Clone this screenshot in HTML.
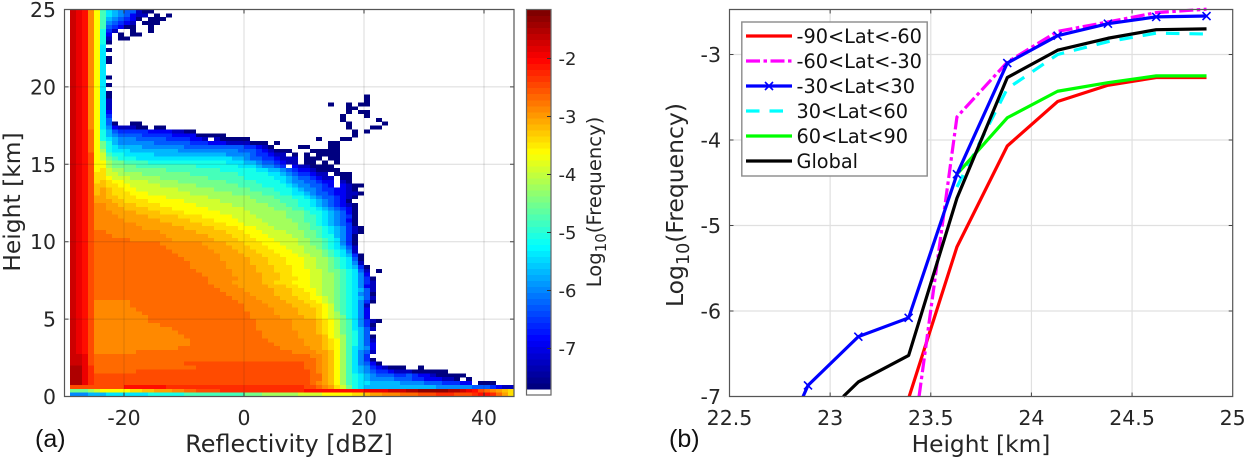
<!DOCTYPE html>
<html lang="en">
<head>
<meta charset="utf-8">
<title>Reflectivity frequency and latitude curves</title>
<style>
html,body{margin:0;padding:0;background:#fff;width:1245px;height:460px;overflow:hidden;}
svg{display:block;}
text{font-family:"DejaVu Sans","Liberation Sans",sans-serif;fill:#262626;}
.panel-tag{font-family:"Liberation Sans",sans-serif;font-size:25px;fill:#111;}
</style>
</head>
<body>
<svg id="figure" width="1245" height="460" viewBox="0 0 1245 460" xmlns="http://www.w3.org/2000/svg">
  <rect x="0" y="0" width="1245" height="460" fill="#fff"/>
  <g id="panel-a"></g>
  <g id="colorbar"></g>
  <g id="panel-b"></g>
  <text class="panel-tag" x="35" y="447">(a)</text>
  <text class="panel-tag" x="669" y="447">(b)</text>
</svg>
<script>
// ---- Panel (a): heatmap values ----
// Log10(frequency) for each cell letter; "." means no data.
const levelLetters = "abcdefghijklmnopqrstuvwxyz";
const levelValues = [-7.7,-7.3,-6.95,-6.6,-6.3,-6.0,-5.7,-5.4,-5.1,-4.8,-4.5,-4.2,-3.9,-3.6,-3.4,-3.2,-3.0,-2.85,-2.65,-2.45,-2.25,-2.05,-1.85,-1.65,-1.45,-1.25];
const reflectivityTicks = [-20,0,20,40];
const heightTicks = [0,5,10,15,20,25];
const colorbarTicks = [-2,-3,-4,-5,-6,-7];
// One run-length string per height row, top (25 km) to bottom (0 km); letter + optional repeat count.
const heatmapRows = [
"xwvrnjhgfe2ba2","xwvrnjhgfecb2.a.a","xwvrnjgfedca.a3","xwvrnjfedcb.a3","xwvrnjedca2.2a",
"xwvrnidb.2a.2a","xwvrnic.a.a2","xwvrnib.a2","xwvrnia","xwvrnh",
"xwvrnha","xwvrnh","xwvrnha","xwvrnha","xwvrnh",
"xwvrnh","xwvrnh","xwvrnha","xwvrnh","xwvrnha",
"xwvrnh","xwvrnha","xwvrnha.42a","xwvrnhb.42a","xwvrnhb.36a.2a.a2",
"xwvrnhb.39a2","xwvrnhc.39a.a2","xwvrnhd.38a.3a","xwvrnhe.38a.5a","xwvrnhea.2a2.34a.5a",
"xwvrnhfcb3a2.a2.30a.3a2","xwvsniged5c4b2a2.26a.a","xwvsnigfe4d5c4a5.21a","xwvsnihgf3e5d4c2b.ba5.11a.3a2","xwvsnkigf6e6d3c3b4a3.a.8a2",
"xwvsnkihg4f7e10d2cba.4a2.3a2","xwvsnlih3g8f10e3dcba3.3a5","xwvtnmji2h5g12f4ed2cb2.a.a.a4","xwvtnmkji3h16g2fe2d2cb3.a3.a2","xwvtnnlk2j4i13h3g2fe2dcb2.a2.a.a",
"xwvtnnlk4j10i7h3gf2ed.cb2a4","xwvtnoml2k7j9i6h2g2fedc2ba4","xwvtoom2l4k8j8i5h2gfed2cb2.a3","xwvtoonm3l5k8j6i5h2gfe2dcb2.a2","xwvtopon2m4l5k8j5i4hgf2e2dc2.ba",
"xwvtppo2n2m5l6k7j4i4hgf2e2dc.cba2","xwvtpqpo2n2m7l6k6j4i3hgf2ed2c2ba","xwvtpqpo3n3m7l7k5j3i2h2gfe2dc2b2a","xwvtqqp2o3n5m7l7k4j3i2hgfe2dcba","xwvtqq2p2o4n6m6l6k4j3i2hgfedca",
"xwvtrrq2p3o4n6m6l6k3j2i2hgfedcba","xwvtrrq3p4o4n6m6l5k3j2i2hgfedca","xwvtrr2q4p4o4n6m5l6k3ji2hgfeca","xwvtrr3q5p5o4n5m4l5k3j2ihgfeda","xwvtrr4q6p5o4n4m4l5k2j2ihgfeca",
"xwvtrr6q6p5o4n3m4l5k2jihgfeda","xwvtrr7q7p5o4n3m3l4k2j2ihgfdba","xwvtssr9q6p5o3n3m4l3k2jihgfdba","xwvtss2r9q7p4o3n3m4l2k2ji2gfda","xwvtss5r7q7p4o3n3m4l2k2jihfda",
"xwvtss10r7q4p3o3n3m3l2k2jihfda","xwvtss11r7q4p3o3n3m3l2kjihgeb","xwvtss12r7q4p3o3n3m2l3kjihfb","xwvtss13r7q4p3o3n3m2l2kjihgda","xwvtss14r6q5p3o3n3m2l2kjihea",
"xwvtss15r6q4p3o3n3m2l2kjihfb","xwvtss15r6q5p3o3n2m2l2kjihgda","xwvtss16r6q4p3o3n3m2lk2jiheb.a","xwvtss17r5q5p3o2n3m2l2kjihfc","xwvtss18r5q4p3o3n2m2l2kjihfda",
"xwvtss18r4q5p2o3n3m2l2kjihfdb","xwvtss19r4q5p3o2n2m2l2kjihfcb","xwvtss20r4q5p3o2n2ml2kjihgeb","xwvtss21r4q4p3o3nml2kjihfea","xwvtss22r4q4p3o2n2mlkjihgeb",
"xwvtr6s18r4q4p3o2nmlkjihfda","xwvtr6s19r4q4p3o2nmkjihfb","xwvtr7s18r5q4p3onmkjihfc","xwvtr8s18r4q4p3onmljihfc","xwvtr9s17r5q4p2onmlkihfc",
"xwvtr9s18r6q4ponmkjhfdba","xwvtr11s16r6q4ponmkjhfda","xwvtr13s14r6q4ponmkjhgeb","xwvtr14s14r6q3ponmkjige","xwvtr15s13r6q4pnmljigea",
"xwvtr16s13r6q3ponljigeb","xwvtr16s14r5q3ponljigec","xwvtr14s17r5q2ponljhgfc","xwvtr7s26r4q2pnljhfeb","xxwts36r2qpnljhfd",
"xxwts37rqpnljhfda","xxwts15t20s2rqpnljhfeca","yywus17t18s2rqpnljhgfdcba3.2a","yywus7t29srqpnljhgfed2cb3a6","yywut36s2qpnljihgfe3d2edc2ba5",
"yywut36s2qpnljihgf4e3d2c3b2a.a","yywut36srqpnljih2g5f4e3d3c2.a3","t9v7u23t2srqomkihg12f6e3dcb2","k3lmn5o2p2q3r2s2t4u14v10w4x3y2z5y2xwvtsrqpo","f3g3h7i6j10k3l6m4n5o2pq2r3s3t3u3t3uv2usqo"
];

// ---- Panel (b): line chart values ----
const heightBins = [22.64,22.89,23.14,23.39,23.63,23.88,24.13,24.38,24.62,24.87];
const seriesSouthPolar = [null,null,null,-7.02,-5.25,-4.07,-3.55,-3.36,-3.27,-3.27];
const seriesSouthMid = [null,null,null,-7.9,-3.73,-3.09,-2.73,-2.62,-2.51,-2.47];
const seriesTropics = [-8.2,-6.87,-6.30,-6.08,-4.40,-3.10,-2.78,-2.64,-2.56,-2.55];
const seriesNorthMid = [null,null,null,null,-4.55,-3.40,-3.00,-2.85,-2.75,-2.76];
const seriesNorthPolar = [null,null,null,null,-4.40,-3.74,-3.43,-3.33,-3.25,-3.25];
const seriesGlobal = [null,-7.4,-6.83,-6.52,-4.68,-3.27,-2.95,-2.81,-2.71,-2.70];
const heightAxisTicks = ["22.5","23","23.5","24","24.5","25"];
const frequencyAxisTicks = [-3,-4,-5,-6,-7];
const legendLabels = ["-90<Lat<-60","-60<Lat<-30","-30<Lat<30","30<Lat<60","60<Lat<90","Global"];

const NS = "http://www.w3.org/2000/svg";
function mk(parent, tag, attrs, txt) {
  const el = document.createElementNS(NS, tag);
  for (const k in attrs) el.setAttribute(k, attrs[k]);
  if (txt !== undefined) el.textContent = txt;
  parent.appendChild(el);
  return el;
}
function clamp(v) { return Math.max(0, Math.min(1, v)); }
function jet(f) {
  const r = clamp(1.5 - Math.abs(4 * f - 3));
  const g = clamp(1.5 - Math.abs(4 * f - 2));
  const b = clamp(1.5 - Math.abs(4 * f - 1));
  return "rgb(" + Math.round(r * 255) + "," + Math.round(g * 255) + "," + Math.round(b * 255) + ")";
}
function logColor(v) { return jet((v + 7.7) / 6.55); }

// Axis functions for panel (a)
const ax = {l: 64.5, r: 514, t: 9.5, b: 396.5};
function xA(dbz) { return 244 + dbz * 6; }
function yA(km) { return ax.b - km * (ax.b - ax.t) / 25; }

const pa = document.getElementById("panel-a");
const cells = mk(pa, "g", {"shape-rendering": "crispEdges"});


heatmapRows.forEach(function (row, ri) {
  const kmTop = 25 - ri * 0.25;
  let col = 0;
  const re = /([a-z.])(\d*)/g;
  let m;
  while ((m = re.exec(row)) !== null) {
    const n = m[2] ? parseInt(m[2], 10) : 1;
    for (let i = 0; i < n; i++, col++) {
      if (m[1] === ".") continue;
      const dbz = -29 + col;
      const c = mk(cells, "rect", {
        x: xA(dbz), y: yA(kmTop).toFixed(2),
        width: xA(dbz + 1) - xA(dbz),
        height: (yA(kmTop - 0.25) - yA(kmTop) + 0.1).toFixed(2),
        fill: logColor(levelValues[levelLetters.indexOf(m[1])])
      });
      
      
    }
  }
});

reflectivityTicks.forEach(function (t) {
  const g = mk(pa, "line", {x1: xA(t), x2: xA(t), y1: ax.t, y2: ax.b, stroke: "rgba(30,30,30,0.16)", "stroke-width": 1});
  
  
  const k1 = mk(pa, "path", {d: "M" + xA(t) + " " + ax.b + "v-4M" + xA(t) + " " + ax.t + "v4", stroke: "#333", "stroke-width": 1, fill: "none"});
  
  
  const l = mk(pa, "text", {x: xA(t), y: 425, "text-anchor": "middle", "font-size": 20.4}, String(t));
  
  
});
heightTicks.forEach(function (t) {
  if (t > 0 && t < 25) {
    const g = mk(pa, "line", {x1: ax.l, x2: ax.r, y1: yA(t), y2: yA(t), stroke: "rgba(30,30,30,0.16)", "stroke-width": 1});
    
    
  }
  const k = mk(pa, "path", {d: "M" + ax.l + " " + yA(t) + "h4M" + ax.r + " " + yA(t) + "h-4", stroke: "#444", "stroke-width": 1, fill: "none"});
  
  
  const l = mk(pa, "text", {x: 56, y: yA(t) + 7.5, "text-anchor": "end", "font-size": 20.4}, String(t));
  
  
});
const boxA = mk(pa, "path", {d: "M" + ax.l + " " + ax.t + "H" + ax.r + "V" + ax.b + "H" + ax.l + "Z", fill: "none", stroke: "#555", "stroke-width": 1.2});


const xtA = mk(pa, "text", {x: 289, y: 452, "text-anchor": "middle", "font-size": 23.9}, "Reflectivity [dBZ]");


const ytA = mk(pa, "text", {transform: "translate(20 202) rotate(-90)", "text-anchor": "middle", "font-size": 23.4}, "Height [km]");



// Colorbar
const cb = document.getElementById("colorbar");
function yC(v) { return 58.5 + (-2 - v) * 58; }
const cbBands = 63;
const cbTop = 9.5, cbBottom = 389;
const bandGroup = mk(cb, "g", {"shape-rendering": "crispEdges"});


for (let i = 0; i < cbBands; i++) {
  const h = (cbBottom - cbTop) / cbBands;
  const r = mk(bandGroup, "rect", {x: 526.5, y: (cbBottom - (i + 1) * h).toFixed(2), width: 24.5, height: (h + 0.4).toFixed(2), fill: jet(i / (cbBands - 1))});
  
  
}
const cbBox = mk(cb, "rect", {x: 526.5, y: 9.5, width: 24.5, height: 385.5, fill: "none", stroke: "#666", "stroke-width": 1.2});


colorbarTicks.forEach(function (t) {
  const k = mk(cb, "line", {x1: 547, x2: 551, y1: yC(t), y2: yC(t), stroke: "#333", "stroke-width": 1});
  
  
  const l = mk(cb, "text", {x: 558.5, y: yC(t) + 6.5, "font-size": 18}, String(t));
  
  
});
const cbTitle = mk(cb, "text", {transform: "translate(601 202) rotate(-90)", "text-anchor": "middle", "font-size": 19.6});


mk(cbTitle, "tspan", {}, "Log");
mk(cbTitle, "tspan", {dy: 5, "font-size": 15}, "10");
mk(cbTitle, "tspan", {dy: -5}, "(Frequency)");

// Axis functions for panel (b)
const bx = {l: 729.5, r: 1232.7, t: 9.5, b: 396.5};
const yFloor = -7;
function xB(h) { return bx.l + (h - 22.5) * (bx.r - bx.l) / 2.5; }
function yB(v) { return bx.b - (v + 7) * 85.5; }

const pb = document.getElementById("panel-b");
heightAxisTicks.forEach(function (t) {
  const v = parseFloat(t);
  if (v > 22.5 && v < 25) {
    const g = mk(pb, "line", {x1: xB(v), x2: xB(v), y1: bx.t, y2: bx.b, stroke: "#e0e0e0", "stroke-width": 1.2});
    
    
    const k = mk(pb, "path", {d: "M" + xB(v) + " " + bx.b + "v-4M" + xB(v) + " " + bx.t + "v4", stroke: "#444", "stroke-width": 1, fill: "none"});
    
    
  }
  const l = mk(pb, "text", {x: xB(v), y: 425, "text-anchor": "middle", "font-size": 20.5}, t);
  
  
});
frequencyAxisTicks.forEach(function (t) {
  if (t > -7) {
    const g = mk(pb, "line", {x1: bx.l, x2: bx.r, y1: yB(t), y2: yB(t), stroke: "#e0e0e0", "stroke-width": 1.2});
    
    
    const k = mk(pb, "path", {d: "M" + bx.l + " " + yB(t) + "h4M" + bx.r + " " + yB(t) + "h-4", stroke: "#444", "stroke-width": 1, fill: "none"});
    
    
  }
  const l = mk(pb, "text", {x: 721, y: yB(t) + 7.5, "text-anchor": "end", "font-size": 20.5}, String(t));
  
  
});

const styles = {
  red: {stroke: "#ff0000", dash: ""},
  magenta: {stroke: "#ff00ff", dash: "14 3.5 3.5 3.5"},
  blue: {stroke: "#0000ff", dash: ""},
  cyan: {stroke: "#00ffff", dash: "13.5 10"},
  green: {stroke: "#00ff00", dash: ""},
  black: {stroke: "#000000", dash: ""}
};
// Builds a polyline that stops at the lower axis limit.
function pathOf(values) {
  let d = "";
  values.forEach(function (v, i) {
    if (v === null) return;
    if (v < yFloor) {
      const next = values[i + 1];
      if (next !== null && next !== undefined && next >= yFloor) {
        const t = (yFloor - v) / (next - v);
        const h = heightBins[i] + t * (heightBins[i + 1] - heightBins[i]);
        d += (d ? "L" : "M") + xB(h).toFixed(2) + " " + yB(yFloor).toFixed(2);
      }
      return;
    }
    d += (d ? "L" : "M") + xB(heightBins[i]).toFixed(2) + " " + yB(v).toFixed(2);
  });
  return d;
}
const curveGroup = mk(pb, "g", {});


function drawCurve(values, st, name) {
  const p = mk(curveGroup, "path", {d: pathOf(values), fill: "none", stroke: st.stroke, "stroke-width": 3.2, "stroke-linejoin": "round"});
  if (st.dash) p.setAttribute("stroke-dasharray", st.dash);
  
  
}
drawCurve(seriesSouthPolar, styles.red, "line-south-polar");
drawCurve(seriesSouthMid, styles.magenta, "line-south-midlat");
drawCurve(seriesNorthMid, styles.cyan, "line-north-midlat");
drawCurve(seriesNorthPolar, styles.green, "line-north-polar");
drawCurve(seriesTropics, styles.blue, "line-tropics");
seriesTropics.forEach(function (v, i) {
  if (v < yFloor) return;
  const x = xB(heightBins[i]), y = yB(v), s = 4;
  const mrk = mk(curveGroup, "path", {d: "M" + (x - s) + " " + (y - s) + "L" + (x + s) + " " + (y + s) + "M" + (x - s) + " " + (y + s) + "L" + (x + s) + " " + (y - s), stroke: "#0000ff", "stroke-width": 1.6, fill: "none"});
  
  
});
drawCurve(seriesGlobal, styles.black, "line-global");

const boxB = mk(pb, "path", {d: "M" + bx.l + " " + bx.t + "H" + bx.r + "V" + bx.b + "H" + bx.l + "Z", fill: "none", stroke: "#555", "stroke-width": 1.2});


const xtB = mk(pb, "text", {x: 981, y: 452, "text-anchor": "middle", "font-size": 23.3}, "Height [km]");


const ytB = mk(pb, "text", {transform: "translate(683 205) rotate(-90)", "text-anchor": "middle", "font-size": 23.5});


mk(ytB, "tspan", {}, "Log");
mk(ytB, "tspan", {dy: 6, "font-size": 17.5}, "10");
mk(ytB, "tspan", {dy: -6}, "(Frequency)");

// Legend
const legend = mk(pb, "g", {});


const legendBox = mk(legend, "rect", {x: 741.8, y: 22, width: 185.4, height: 154, fill: "#fff", stroke: "#8a8a8a", "stroke-width": 1.4});


const legendStyles = [styles.red, styles.magenta, styles.blue, styles.cyan, styles.green, styles.black];
legendLabels.forEach(function (label, i) {
  const y = 36 + i * 25;
  const st = legendStyles[i];
  const ln = mk(legend, "line", {x1: 746, x2: 792, y1: y, y2: y, stroke: st.stroke, "stroke-width": 3.2});
  if (st.dash) ln.setAttribute("stroke-dasharray", st.dash);
  
  
  if (i === 2) {
    const xm = mk(legend, "path", {d: "M765 " + (y - 4) + "l8 8M765 " + (y + 4) + "l8 -8", stroke: "#0000ff", "stroke-width": 1.6, fill: "none"});
    
    
  }
  const tx = mk(legend, "text", {x: 796.5, y: y + 7, "font-size": 19.3, style: "fill:#111"}, label);
  
  
});
</script>
</body>
</html>
